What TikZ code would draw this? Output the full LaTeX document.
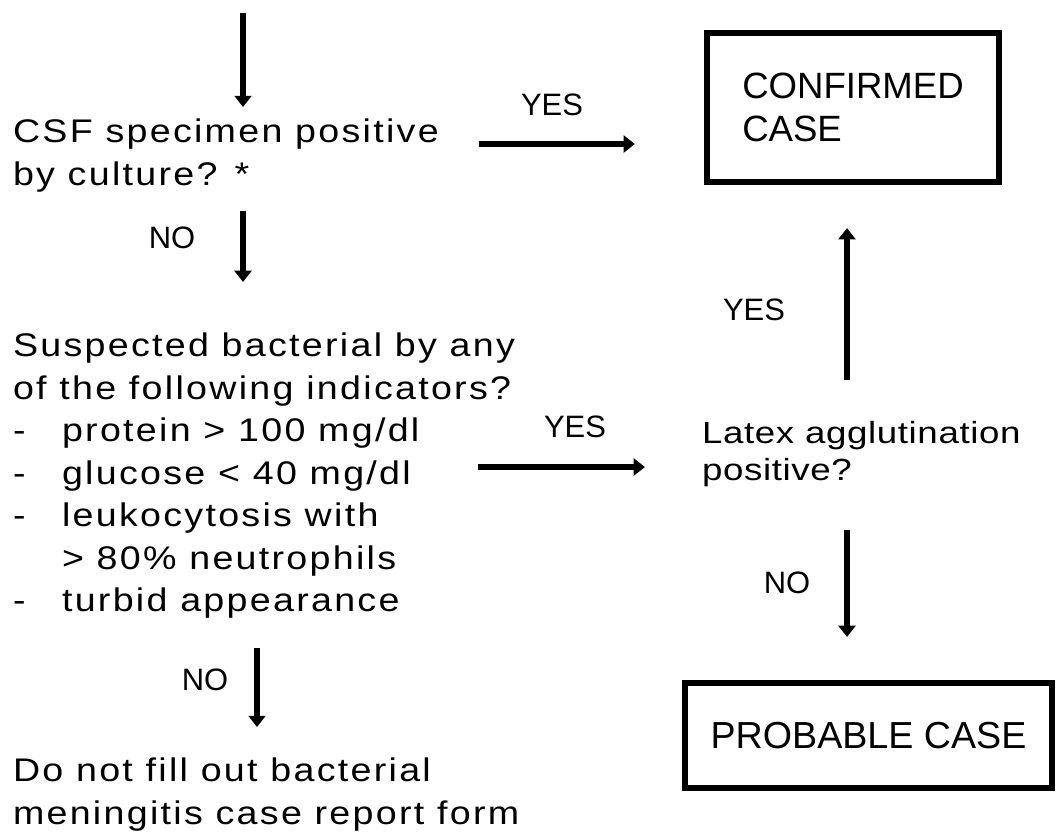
\documentclass[tikz,border=0pt]{standalone}
\usepackage{fontspec}
\setmainfont{Liberation Sans}
\newfontfamily\leftfont{Liberation Sans}[FakeStretch=1.15,LetterSpace=7]
\newfontfamily\rightfont{Liberation Sans}[FakeStretch=1.2,LetterSpace=2]
\usetikzlibrary{arrows.meta}

\begin{document}
\begin{tikzpicture}[x=0.01cm, y=-0.01cm]
	\tikzstyle{every node} = [inner sep=0pt, outer sep=0pt]
	\tikzstyle{question} = [anchor=north west, align=left, font=\leftfont\fontsize{9.3pt}{12.09pt}\selectfont]
	\tikzstyle{casebox} = [draw, line width=1.6pt, align=left]
	\tikzstyle{answer} = [anchor=base, font=\fontsize{8.8pt}{10pt}\selectfont]
	\tikzstyle{arr} = [-{Triangle[length=3.2pt,width=4.8pt]}, line width=1.5pt]
	\useasboundingbox (0,0) rectangle (1058,832);
	% left column
	\coordinate (entry) at (243,13);
	\node[question] (csf) at (13,119) {CSF specimen positive\\by culture? *};
	\node[question] (susp) at (13,333) {Suspected bacterial by any\\of the following indicators?\\
		\makebox[0.49cm][l]{-}protein > 100 mg/dl\\
		\makebox[0.49cm][l]{-}glucose < 40 mg/dl\\
		\makebox[0.49cm][l]{-}leukocytosis with\\
		\hspace*{0.49cm}> 80\% neutrophils\\
		\makebox[0.49cm][l]{-}turbid appearance};
	\node[question] (nofill) at (13,758) {Do not fill out bacterial\\meningitis case report form};
	% right column
	\node[casebox, minimum width=2.92cm, minimum height=1.49cm, font=\fontsize{10.4pt}{12.2pt}\selectfont] (confirmed) at (853,107.5) {CONFIRMED\\CASE};
	\node[anchor=north west, align=left, font=\rightfont\fontsize{8.7pt}{10.5pt}\selectfont] (latex) at (702,421) {Latex agglutination\\positive?};
	\node[casebox, minimum width=3.67cm, minimum height=1.05cm, font=\fontsize{10.7pt}{12pt}\selectfont] (probable) at (868.5,735.5) {PROBABLE CASE};
	% answers
	\node[answer] (yes1) at (552,115) {YES};
	\node[answer] (no1) at (172,248) {NO};
	\node[answer] (yes2) at (575,437) {YES};
	\node[answer] (no2) at (205,690) {NO};
	\node[answer] (yes3) at (754,320) {YES};
	\node[answer] (no3) at (787,593) {NO};
	% connectors
	\draw[arr, shorten >=0.12cm] (entry) -- (entry |- csf.north);
	\draw[arr, shorten <=0.19cm, shorten >=0.51cm] (csf.south -| entry) -- (susp.north -| entry);
	\draw[arr, shorten <=0.40cm, shorten >=0.72cm] (csf.east |- 0,144) -- (confirmed.west |- 0,144);
	\draw[arr, shorten <=-0.37cm, shorten >=0.57cm] (susp.east |- 0,467) -- (latex.west |- 0,467);
	\draw[arr, shorten <=0.29cm, shorten >=0.31cm] (susp.south -| 257,0) -- (nofill.north -| 257,0);
	\draw[arr, shorten <=0.41cm, shorten >=0.46cm] (latex.north -| 847,0) -- (confirmed.south -| 847,0);
	\draw[arr, shorten <=0.44cm, shorten >=0.46cm] (latex.south -| 847,0) -- (probable.north -| 847,0);
\end{tikzpicture}
\end{document}
